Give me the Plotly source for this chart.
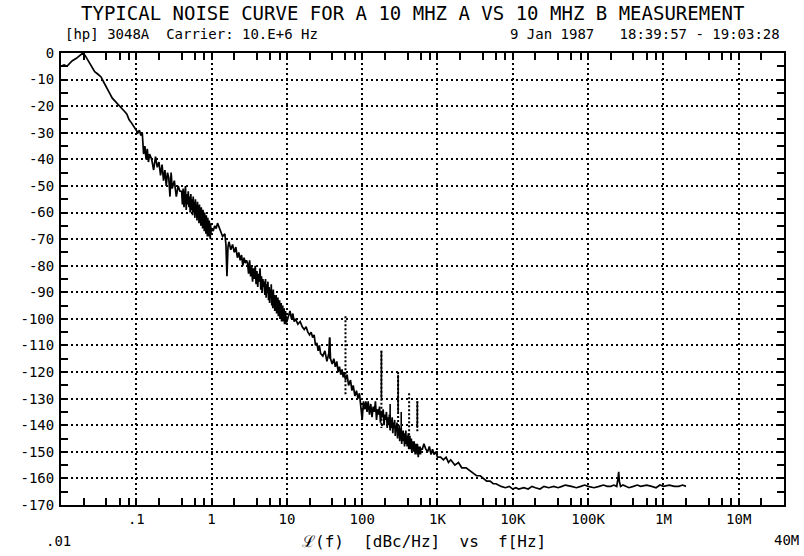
import plotly.graph_objects as go

seg_a_hz = [0.01, 0.011, 0.012, 0.013, 0.014, 0.016, 0.018, 0.0195, 0.021, 0.023,
            0.025, 0.028, 0.031, 0.034, 0.037, 0.040, 0.044, 0.048, 0.052, 0.056,
            0.06, 0.065, 0.07, 0.075, 0.08, 0.085, 0.09, 0.095]
seg_a_db = [-5, -4.5, -5, -4, -3, -2, -1, 0, -1, -3,
            -5, -7, -8, -9, -11, -13, -15, -17, -18, -19,
            -20, -21, -22, -23, -25, -26, -27, -28]

seg_b_hz = [0.1, 0.105, 0.11, 0.115, 0.12, 0.125, 0.13, 0.135, 0.14, 0.145,
            0.15, 0.16, 0.17, 0.18, 0.19, 0.2, 0.21, 0.22, 0.23, 0.24,
            0.25, 0.26, 0.27, 0.28, 0.29, 0.3, 0.32, 0.34, 0.36, 0.38]
seg_b_db = [-29, -30, -29, -31, -30, -38, -35, -40, -36, -41,
            -38, -40, -44, -39, -43, -41, -46, -42, -48, -44,
            -50, -45, -47, -54, -45, -51, -48, -54, -50, -52]

seg_c_hz = [0.40, 0.41, 0.42, 0.43, 0.44, 0.45, 0.46, 0.47, 0.48, 0.49,
            0.50, 0.51, 0.52, 0.53, 0.54, 0.55, 0.56, 0.57, 0.58, 0.59,
            0.60, 0.61, 0.62, 0.63, 0.64, 0.65, 0.66, 0.67, 0.68, 0.69,
            0.70, 0.71, 0.72, 0.73, 0.74, 0.75, 0.76, 0.77, 0.78, 0.79,
            0.80, 0.81, 0.82, 0.83, 0.84, 0.85, 0.86, 0.87, 0.88, 0.89,
            0.90, 0.91, 0.92, 0.93, 0.94, 0.95, 0.96, 0.97, 0.98, 0.99, 1.0]
seg_c_db = [-52, -57, -51, -58, -54, -50, -59, -53, -57, -52,
            -58, -54, -60, -53, -59, -55, -61, -54, -60, -56,
            -62, -55, -61, -57, -63, -56, -62, -58, -64, -57,
            -63, -59, -65, -58, -64, -60, -66, -59, -65, -61,
            -67, -60, -66, -62, -68, -61, -67, -63, -69, -62,
            -67, -64, -69, -63, -68, -65, -70, -64, -68, -66, -66]

seg_d_hz = [1.05, 1.1, 1.15, 1.2, 1.3, 1.4, 1.5, 1.55, 1.6, 1.65,
            1.7, 1.8, 1.9, 2.0, 2.1, 2.2, 2.3, 2.4, 2.5, 2.6,
            2.7, 2.8, 2.9]
seg_d_db = [-67, -65, -66, -64, -67, -69, -68, -72, -84, -73,
            -71, -74, -72, -75, -73, -77, -75, -78, -76, -80,
            -77, -79, -78]

seg_e_hz = [3.0, 3.1, 3.2, 3.3, 3.4, 3.5, 3.6, 3.7, 3.8, 3.9,
            4.0, 4.1, 4.2, 4.3, 4.4, 4.5, 4.6, 4.7, 4.8, 4.9,
            5.0, 5.1, 5.2, 5.3, 5.4, 5.5, 5.6, 5.7, 5.8, 5.9,
            6.0, 6.1, 6.2, 6.3, 6.4, 6.5, 6.6, 6.7, 6.8, 6.9,
            7.0, 7.1, 7.2, 7.3, 7.4, 7.5, 7.6, 7.7, 7.8, 7.9,
            8.0, 8.1, 8.2, 8.3, 8.4, 8.5, 8.6, 8.7, 8.8, 8.9,
            9.0, 9.1, 9.2, 9.3, 9.4, 9.5, 9.6, 9.7, 9.8, 9.9, 10]
seg_e_db = [-79, -83, -78, -84, -80, -86, -81, -85, -80, -87,
            -82, -88, -83, -86, -81, -89, -84, -90, -85, -88,
            -86, -91, -85, -92, -87, -90, -86, -93, -88, -94,
            -89, -92, -87, -95, -90, -96, -89, -94, -91, -97,
            -92, -96, -91, -98, -93, -97, -92, -99, -94, -98,
            -93, -100, -95, -98, -94, -101, -96, -99, -95, -101,
            -97, -100, -96, -102, -98, -100, -97, -102, -99, -101, -101]

seg_f_hz = [10.5, 11, 11.5, 12, 12.5, 13, 14, 15, 16, 17,
            18, 19, 20, 21, 22, 23, 24, 25, 26, 27,
            28, 30, 32, 34, 36, 37, 38, 40, 42, 44,
            46, 48, 50, 52, 54, 56, 58, 60, 63, 66,
            70, 73, 76, 80, 84, 88, 92, 96, 100, 104,
            108, 112, 116]
seg_f_db = [-99, -97, -100, -98, -101, -100, -102, -101, -103, -104,
            -103, -105, -106, -105, -107, -106, -110, -109, -112, -110,
            -113, -114, -112, -116, -113, -107, -115, -117, -115, -118,
            -116, -120, -118, -121, -119, -122, -120, -123, -121, -125,
            -123, -127, -125, -129, -127, -130, -128, -132, -138, -131,
            -134, -131, -135]

seg_g_hz = [120, 125, 130, 135, 140, 145, 150, 155, 160, 165,
            170, 175, 180, 185, 190, 195, 200, 205, 210, 215,
            220, 225, 230, 235, 240, 245, 250, 255, 260, 265,
            270, 275, 280, 285, 290, 295, 300, 305, 310, 315,
            320, 325, 330, 335, 340, 345, 350, 355, 360, 365,
            370, 375, 380, 385, 390, 395, 400, 405, 410, 415,
            420, 425, 430, 435, 440, 445, 450, 455, 460, 465,
            470, 475, 480, 485, 490, 495, 500, 505, 510, 515,
            520, 525, 530, 535, 540, 545, 550, 555, 560, 565,
            570, 575, 580, 585, 590, 595, 600]
seg_g_db = [-131, -136, -132, -137, -133, -135, -131, -138, -134, -136,
            -133, -139, -135, -137, -134, -140, -136, -138, -135, -141,
            -137, -140, -136, -142, -138, -141, -137, -143, -139, -141,
            -138, -144, -140, -142, -139, -145, -141, -143, -140, -146,
            -142, -144, -141, -147, -143, -145, -142, -146, -143, -148,
            -144, -146, -142, -147, -144, -148, -145, -147, -143, -149,
            -145, -147, -144, -149, -146, -148, -145, -150, -146, -148,
            -146, -149, -147, -150, -146, -149, -148, -151, -147, -149,
            -147, -150, -148, -151, -147, -150, -149, -152, -148, -150,
            -148, -151, -149, -150, -148, -151, -149]

seg_h_hz = [630, 660, 700, 740, 780, 820, 860, 900, 950, 1000,
            1100, 1200, 1300, 1400, 1500, 1700, 1900, 2100, 2400, 2700,
            3000, 3300, 3700, 4100, 4500, 5000, 5500, 6000, 7000, 8000,
            9000, 10000, 11000, 12000, 14000, 16000, 18000, 20000, 23000, 26000,
            30000, 35000, 40000, 45000, 50000, 60000, 70000, 80000, 90000, 100000,
            120000, 140000, 160000, 180000, 200000, 220000, 240000, 250000, 255000, 260000,
            270000, 290000, 320000, 350000, 400000, 450000, 500000, 600000, 700000, 800000,
            900000, 1000000, 1200000, 1400000, 1600000, 1800000, 2000000]
seg_h_db = [-149, -147, -149, -150, -148, -151, -149, -151, -150, -152,
            -152, -153, -152, -154, -153, -155, -154, -156, -156, -157,
            -158, -159, -159, -160, -161, -161, -162, -162, -163, -163.5,
            -163, -164, -163.5, -164, -163.5, -164, -163, -163.5, -164, -163,
            -163.5, -163, -163.5, -163, -162.5, -163, -163.5, -163, -162.5, -163,
            -163.5, -163, -162.5, -163, -163, -162.5, -163, -160, -157.5, -161,
            -163, -162.5, -163, -163.5, -163, -162.5, -163, -162.5, -163, -163.5,
            -162.5, -163, -162.5, -163, -163, -162.5, -163]

# line-related spurs, drawn as vertical strokes
spur_dot_hz = [60, 180, 300, 420, 540]
spur_dot_top = [-99, -112, -120, -128, -131]
spur_dot_bot = [-129, -141, -141, -146, -143]
spur_solid_hz = [37, 180, 235, 300, 330, 540]
spur_solid_top = [-107, -112, -132, -121, -135, -131]
spur_solid_bot = [-115, -130, -141, -135, -142, -141]

x_ticks = [0.1, 1, 10, 100, 1e3, 1e4, 1e5, 1e6, 1e7]
x_labels = ['.1', '1', '10', '100', '1K', '10K', '100K', '1M', '10M']
y_ticks = list(range(-170, 1, 10))
y_labels = [str(v) for v in y_ticks]

FONT = 'DejaVu Sans Mono'

freq_hz = seg_a_hz + seg_b_hz + seg_c_hz + seg_d_hz + seg_e_hz + seg_f_hz + seg_g_hz + seg_h_hz
noise_dbc = seg_a_db + seg_b_db + seg_c_db + seg_d_db + seg_e_db + seg_f_db + seg_g_db + seg_h_db


def spur_path(fs, tops, bots):
    xs, ys = [], []
    for f, t, b in zip(fs, tops, bots):
        xs += [f, f, None]
        ys += [t, b, None]
    return xs, ys


fig = go.Figure()
fig.add_trace(go.Scatter(x=freq_hz, y=noise_dbc, mode='lines',
                         line=dict(color='black', width=1.7)))
sx, sy = spur_path(spur_dot_hz, spur_dot_top, spur_dot_bot)
fig.add_trace(go.Scatter(x=sx, y=sy, mode='lines',
                         line=dict(color='black', width=2, dash='2px,2px')))
sx, sy = spur_path(spur_solid_hz, spur_solid_top, spur_solid_bot)
fig.add_trace(go.Scatter(x=sx, y=sy, mode='lines',
                         line=dict(color='black', width=1.6)))

minor_x = [m * 10 ** e for e in range(-2, 8) for m in (2, 4, 6, 8) if m * 10 ** e < 4e7]

fig.update_xaxes(
    type='log', range=[-2, 7.60206],
    tickvals=x_ticks, ticktext=x_labels,
    ticks='inside', ticklen=7, tickwidth=1.5, tickcolor='black',
    showgrid=True, gridcolor='black', gridwidth=1.5, griddash='2px,3px',
    showline=True, linecolor='black', linewidth=2, mirror='allticks',
    minor=dict(tickvals=minor_x, ticks='inside', ticklen=7, tickwidth=1.5,
               tickcolor='black', showgrid=False),
    tickfont=dict(family=FONT, size=14, color='black'),
    ticklabelstandoff=0, zeroline=False,
)
fig.update_yaxes(
    range=[-170, 0],
    tickvals=y_ticks, ticktext=y_labels,
    ticks='inside', ticklen=7, tickwidth=1.5, tickcolor='black',
    showgrid=True, gridcolor='black', gridwidth=1.5, griddash='2px,3px',
    showline=True, linecolor='black', linewidth=2, mirror='allticks',
    minor=dict(dtick=5, tick0=0, ticks='inside', ticklen=7, tickwidth=1.5,
               tickcolor='black', showgrid=False),
    tickfont=dict(family=FONT, size=14, color='black'),
    ticklabelstandoff=2, zeroline=False,
)

txt = dict(family=FONT, color='black')
fig.add_annotation(text='TYPICAL NOISE CURVE FOR A 10 MHZ A VS 10 MHZ B MEASUREMENT',
                   x=0.4855, y=1.0896, xref='paper', yref='paper', showarrow=False,
                   font=dict(size=19, **txt), xanchor='center', yanchor='middle')
fig.add_annotation(text='[hp] 3048A  Carrier: 10.E+6 Hz',
                   x=0.003, y=1.042, xref='paper', yref='paper', showarrow=False,
                   font=dict(size=14, **txt), xanchor='left', yanchor='middle')
fig.add_annotation(text='9 Jan 1987   18:39:57 - 19:03:28',
                   x=0.997, y=1.042, xref='paper', yref='paper', showarrow=False,
                   font=dict(size=14, **txt), xanchor='right', yanchor='middle')
fig.add_annotation(text='.01', x=-0.004, y=-0.08, xref='paper', yref='paper',
                   showarrow=False, font=dict(size=14, **txt),
                   xanchor='center', yanchor='middle')
fig.add_annotation(text='40M', x=1.004, y=-0.078, xref='paper', yref='paper',
                   showarrow=False, font=dict(size=14, **txt),
                   xanchor='center', yanchor='middle')
fig.add_annotation(text='\u2112(f)  [dBc/Hz]  vs  f[Hz]', x=0.502, y=-0.08,
                   xref='paper', yref='paper', showarrow=False,
                   font=dict(size=16, **txt), xanchor='center', yanchor='middle')

fig.update_layout(
    width=804, height=556,
    margin=dict(l=61, r=20, t=53, b=51),
    paper_bgcolor='white', plot_bgcolor='white',
    showlegend=False,
)

# drop the browser's default 8 px body margin so the figure fills the window
fig.write_html("out.html", config={'displayModeBar': False},
               post_script="document.body.style.margin = '0';")
